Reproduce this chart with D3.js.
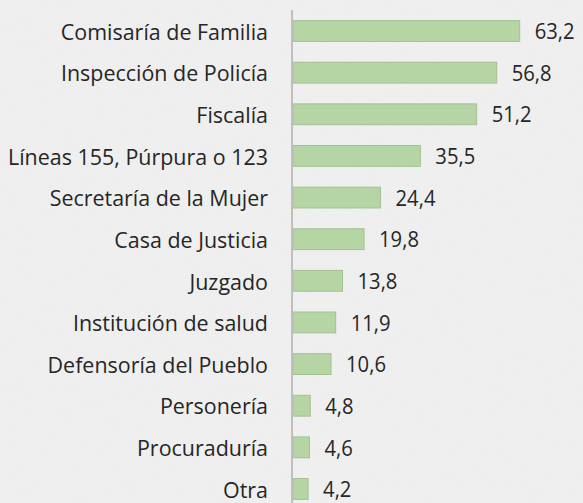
<!DOCTYPE html>
<html>
<head>
<meta charset="utf-8">
<script src="https://cdn.jsdelivr.net/npm/d3@7"></script>
<style>
  html, body { margin: 0; padding: 0; background: #f1f1f1; }
  svg { display: block; }
  text { font-family: "Open Sans", Lato, sans-serif; fill: #262626; }
</style>
</head>
<body>
<div id="chart"></div>
<script>
// Institutions where cases were reported (%)
const categories = [
  "Comisaría de Familia",
  "Inspección de Policía",
  "Fiscalía",
  "Líneas 155, Púrpura o 123",
  "Secretaría de la Mujer",
  "Casa de Justicia",
  "Juzgado",
  "Institución de salud",
  "Defensoría del Pueblo",
  "Personería",
  "Procuraduría",
  "Otra"
];
const values = [63.2, 56.8, 51.2, 35.5, 24.4, 19.8, 13.8, 11.9, 10.6, 4.8, 4.6, 4.2];
const valueLabels = ["63,2", "56,8", "51,2", "35,5", "24,4", "19,8", "13,8", "11,9", "10,6", "4,8", "4,6", "4,2"];

const W = 583, H = 503;
const axisX = 292;
const fontSize = 22;
const squeezeCat = 0.975;  // narrow the category glyphs slightly
const squeezeVal = 0.92;   // narrow the value glyphs slightly

const svg = d3.select("#chart").append("svg")
  .attr("width", W).attr("height", H);

// paper-like background texture
const defs = svg.append("defs");
const f = defs.append("filter").attr("id", "paper").attr("x", 0).attr("y", 0).attr("width", "100%").attr("height", "100%");
f.append("feTurbulence").attr("type", "fractalNoise").attr("baseFrequency", "0.9 0.35").attr("numOctaves", 3).attr("seed", 4).attr("result", "noise");
f.append("feColorMatrix").attr("type", "matrix")
  .attr("values", "0 0 0 0 0.5  0 0 0 0 0.5  0 0 0 0 0.5  0 0 0 0.09 0");
svg.append("rect").attr("width", W).attr("height", H).attr("fill", "#f1f1f1");
svg.append("rect").attr("width", W).attr("height", H).attr("filter", "url(#paper)");

const x = d3.scaleLinear().domain([0, 63.2]).range([axisX + 1, 519.7]);
const y = d3.scaleBand().domain(categories).range([10.2, 509.8])
  .paddingInner(0.5).paddingOuter(0.25);

// bars
svg.append("g").selectAll("rect")
  .data(values)
  .join("rect")
  .attr("x", x(0))
  .attr("y", (d, i) => y(categories[i]))
  .attr("width", d => x(d) - x(0))
  .attr("height", y.bandwidth())
  .attr("fill", "#b5d5a5")
  .attr("stroke", "#a3c092")
  .attr("stroke-width", 1);

// category axis
const yAxis = d3.axisLeft(y).tickSize(0).tickPadding(0);
const ag = svg.append("g").attr("transform", `translate(${axisX},0)`).call(yAxis);
ag.select(".domain").attr("stroke", "#bfbfbf").attr("stroke-width", 2)
  .attr("d", `M0,10V${H}`);
ag.selectAll(".tick text")
  .attr("x", 0)
  .attr("transform", `translate(-24,1) scale(${squeezeCat},1)`)
  .attr("font-size", fontSize)
  .attr("font-family", "'Open Sans', Lato, sans-serif")
  .attr("fill", "#262626")
  .attr("dy", "0.35em");

// value labels
svg.append("g").selectAll("text")
  .data(values)
  .join("text")
  .attr("transform", (d, i) =>
    `translate(${x(d) + 15},${y(categories[i]) + y.bandwidth() / 2 + 0.5}) scale(${squeezeVal},1)`)
  .attr("dy", "0.35em")
  .attr("font-size", fontSize)
  .text((d, i) => valueLabels[i]);
</script>
</body>
</html>
